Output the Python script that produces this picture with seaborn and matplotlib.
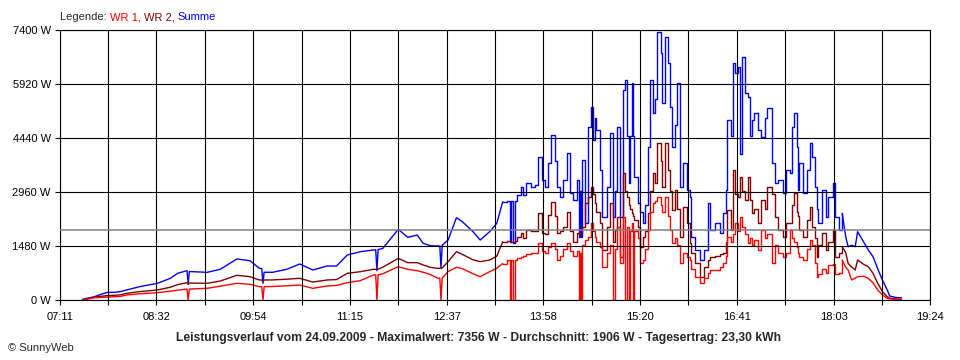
import pandas as pd
import seaborn as sns
import matplotlib.pyplot as plt

zeit = ["07:30", "07:40", "07:45", "07:51", "07:57", "08:02", "08:07", "08:18", "08:33", "08:44",
        "08:50", "08:58", "08:59", "09:00", "09:15", "09:26", "09:40", "09:51", "09:59", "10:01",
        "10:02", "10:03", "10:10", "10:22", "10:33", "10:44", "10:56", "11:04", "11:13", "11:24",
        "11:35", "11:37", "11:38", "11:39", "11:43", "11:56", "12:04", "12:12", "12:17", "12:23",
        "12:29", "12:31", "12:32", "12:33", "12:38", "12:45", "12:50", "12:59", "13:05", "13:13",
        "13:19", "13:24", "13:28", "13:30", "13:31", "13:33", "13:34", "13:36", "13:39", "13:41",
        "13:44", "13:48", "13:51", "13:54", "13:57", "14:00", "14:02", "14:05", "14:08", "14:10",
        "14:12", "14:15", "14:18", "14:21", "14:23", "14:27", "14:28", "14:29", "14:30", "14:31",
        "14:33", "14:36", "14:38", "14:40", "14:42", "14:43", "14:46", "14:48", "14:52", "14:54",
        "14:57", "14:59", "15:00", "15:03", "15:05", "15:07", "15:09", "15:10", "15:11", "15:13",
        "15:14", "15:15", "15:18", "15:20", "15:22", "15:24", "15:26", "15:28", "15:31", "15:32",
        "15:34", "15:37", "15:38", "15:41", "15:43", "15:45", "15:47", "15:49", "15:51", "15:53",
        "15:56", "15:59", "16:02", "16:03", "16:06", "16:10", "16:14", "16:17", "16:19", "16:23",
        "16:27", "16:30", "16:32", "16:33", "16:36", "16:38", "16:40", "16:42", "16:44", "16:46",
        "16:48", "16:51", "16:52", "16:54", "16:56", "16:59", "17:02", "17:05", "17:07", "17:11",
        "17:13", "17:16", "17:20", "17:23", "17:26", "17:28", "17:29", "17:32", "17:33", "17:34",
        "17:37", "17:40", "17:43", "17:45", "17:47", "17:49", "17:50", "17:53", "17:56", "17:58",
        "18:02", "18:04", "18:07", "18:10", "18:13", "18:15", "18:18", "18:21", "18:23", "18:28",
        "18:32", "18:36", "18:40", "18:44", "18:48", "18:50", "18:55", "19:00"]

summe = [20, 90, 150, 210, 210, 230, 274, 365, 457, 594,
         731, 803, 457, 780, 759, 841, 1124, 1078, 868, 860,
         457, 760, 759, 841, 987, 822, 932, 932, 1233, 1324,
         1370, 1375, 803, 1380, 1416, 1937, 1718, 1781, 1553, 1489,
         1480, 1480, 877, 1500, 1644, 2256, 2146, 1872, 1644, 1872,
         2101, 2694, 2700, 1600, 2700, 1560, 2700, 2878, 3106, 2878,
         3198, 3100, 3150, 3928, 3289, 3100, 3755, 4523, 3800, 3106,
         2831, 3300, 4029, 2933, 2741, 3289, 1735, 3000, 1735, 3837,
         2110, 4750, 5298, 4386, 5000, 4660, 3563, 2283, 3106, 4569,
         2283, 3000, 4750, 2283, 5756, 6030, 4500, 3207, 4500, 5940,
         4500, 3380, 2650, 2400, 2101, 2600, 4203, 6030, 5115, 5500,
         7356, 6760, 5390, 7218, 6490, 5298, 4203, 4800, 5940, 3106,
         3755, 3015, 2831, 1735, 1370, 1096, 1370, 2649, 1918, 2101,
         1827, 2375, 3015, 4933, 4500, 6486, 6212, 6394, 4000, 6668,
         5664, 5573, 4500, 4933, 5116, 4660, 4477, 5000, 5253, 3747,
         3198, 3300, 2923, 3563, 3472, 4750, 5116, 4203, 3015, 3747,
         2923, 3563, 4295, 3928, 3106, 2500, 2101, 3015, 2283, 2831,
         3198, 2283, 1918, 2375, 1735, 1461, 1500, 1461, 1872, 1598,
         1370, 1187, 850, 540, 274, 110, 70, 60]

wr2 = [0, 80, 100, 120, 130, 140, 183, 230, 274, 350,
       420, 475, 430, 465, 457, 520, 676, 640, 548, 548,
       500, 548, 550, 570, 594, 493, 548, 560, 731, 776,
       841, 841, 841, 845, 900, 1142, 1023, 1023, 960, 896,
       868, 868, 868, 880, 1051, 1324, 1250, 1100, 1051, 1096,
       1200, 1598, 1620, 1620, 1600, 1600, 1620, 1735, 1827, 1690,
       1918, 1900, 1880, 2375, 1850, 1800, 2330, 2694, 2300, 1850,
       1900, 2009, 2420, 1900, 1598, 1850, 1800, 1850, 1850, 2000,
       2649, 2831, 3106, 2900, 2649, 2400, 2101, 1370, 2000, 2649,
       1600, 1918, 2283, 1187, 3470, 3000, 2831, 2600, 2500, 2375,
       2300, 2200, 2000, 1461, 1735, 1900, 2375, 3000, 3472, 3198,
       4295, 3800, 3106, 4295, 3563, 3000, 2467, 3015, 2500, 1735,
       2557, 2101, 1553, 1300, 1005, 639, 900, 1100, 1187, 1200,
       1250, 1300, 1600, 2467, 1918, 3563, 2900, 2831, 3380, 3000,
       2741, 3380, 2741, 2375, 2500, 2101, 2741, 2500, 3106, 2900,
       2283, 1918, 1735, 2101, 2101, 2600, 2923, 2400, 2300, 1918,
       1735, 2193, 2557, 2009, 1700, 1187, 1500, 1827, 1370, 1600,
       1918, 1187, 1300, 1461, 1300, 1005, 900, 822, 1096, 980,
       913, 731, 457, 228, 90, 50, 30, 20]

wr1 = [0, 60, 70, 80, 90, 100, 137, 170, 201, 240,
       270, 301, 0, 300, 320, 380, 457, 430, 365, 365,
       0, 365, 370, 390, 411, 320, 384, 400, 475, 530,
       685, 688, 0, 690, 720, 913, 840, 803, 760, 700,
       600, 600, 0, 600, 780, 896, 860, 720, 639, 776,
       870, 1000, 1096, 0, 1096, 0, 1100, 1150, 1187, 1200,
       1250, 1280, 1297, 1553, 1350, 1300, 1450, 1553, 1400, 1096,
       1200, 1400, 1553, 1350, 1200, 1350, 0, 1300, 0, 1500,
       1650, 1735, 2101, 1900, 1735, 1600, 1461, 913, 1300, 1500,
       0, 1400, 2009, 1005, 2283, 0, 2000, 0, 1900, 2100,
       0, 1900, 1700, 1005, 1100, 1400, 1918, 2400, 2649, 2700,
       2831, 2600, 2400, 2831, 2300, 1918, 1553, 1700, 1500, 1005,
       1300, 1187, 1096, 850, 639, 457, 600, 750, 822, 822,
       900, 1005, 1200, 1735, 1600, 1800, 2101, 1900, 2283, 2000,
       1800, 1553, 1700, 1500, 1650, 1370, 1918, 1700, 1800, 1005,
       1500, 1300, 1187, 1300, 1918, 1700, 1600, 1461, 1300, 1187,
       1096, 1400, 1644, 1500, 1005, 639, 700, 850, 750, 950,
       1000, 700, 731, 1096, 900, 822, 548, 600, 639, 650,
       594, 470, 274, 137, 45, 30, 20, 15]

tick_labels = ["07:11", "08:32", "09:54", "11:15", "12:37", "13:58", "15:20", "16:41", "18:03", "19:24"]
y_ticks = [0, 1480, 2960, 4440, 5920, 7400]
durchschnitt = 1906
titel = ("Leistungsverlauf vom 24.09.2009 - Maximalwert: 7356 W - "
         "Durchschnitt: 1906 W - Tagesertrag: 23,30 kWh")


def to_min(s):
    h, m = s.split(":")
    return int(h) * 60 + int(m)


df = pd.DataFrame({"zeit": [to_min(z) for z in zeit],
                   "WR 1": wr1, "WR 2": wr2, "Summe": summe})
df_long = df.melt(id_vars="zeit", var_name="serie", value_name="leistung")

# ruhiger Verlauf als Linie, unruhiger Nachmittag als Treppe
start_unruhig = to_min("13:24")
ende_unruhig = to_min("18:10")
ruhig_vor = df_long[df_long["zeit"] <= start_unruhig]
unruhig = df_long[(df_long["zeit"] >= start_unruhig) & (df_long["zeit"] <= ende_unruhig)]
ruhig_nach = df_long[df_long["zeit"] >= ende_unruhig]

sns.set_style("white")
plt.rcParams["font.family"] = ["Liberation Sans", "DejaVu Sans"]

farben = {"WR 1": "#ff0000", "WR 2": "#800000", "Summe": "#0000ff"}
reihenfolge = ["Summe", "WR 2", "WR 1"]

fig = plt.figure(figsize=(9.6, 3.6), dpi=100)
ax = fig.add_axes([60 / 960, 60 / 360, 870 / 960, 270 / 360])

for teil, stil in [(ruhig_vor, "default"), (unruhig, "steps-post"), (ruhig_nach, "default")]:
    sns.lineplot(data=teil, x="zeit", y="leistung", hue="serie",
                 hue_order=reihenfolge, palette=farben, estimator=None,
                 drawstyle=stil, linewidth=1, legend=False, ax=ax)

ax.axhline(durchschnitt, color="#808080", linewidth=1.1, zorder=3)

major = [to_min(t) for t in tick_labels]
minor = [(a + b) / 2 for a, b in zip(major[:-1], major[1:])]
ax.set_xlim(major[0], major[-1])
ax.set_ylim(0, 7400)
ax.set_xticks(major)
ax.set_xticklabels(tick_labels)
ax.set_xticks(minor, minor=True)
ax.set_yticks(y_ticks)
ax.set_yticklabels([f"{v} W" for v in y_ticks])
ax.set_xlabel("")
ax.set_ylabel("")

ax.set_axisbelow(False)
ax.grid(True, which="both", axis="x", color="black", linewidth=0.8)
ax.grid(True, which="major", axis="y", color="black", linewidth=0.8)
for sp in ax.spines.values():
    sp.set_color("black")
    sp.set_linewidth(0.8)
ax.tick_params(axis="both", which="both", direction="out", length=3.6, width=0.8,
               color="black", labelsize=8, labelcolor="black")
ax.tick_params(axis="x", which="both", bottom=True, pad=5)
ax.tick_params(axis="y", which="both", left=True, pad=3)

# Legende als farbiger Text
t = fig.text(60 / 960, 1 - 22 / 360, "Legende: ", fontsize=8, ha="left", va="bottom")
for txt, col in [("WR 1, ", farben["WR 1"]), ("WR 2, ", farben["WR 2"]), ("Summe", farben["Summe"])]:
    t = ax.annotate(txt, xycoords=t, xy=(1, 0), va="bottom", ha="left", color=col, fontsize=8,
                    annotation_clip=False)

fig.text(479 / 960, 1 - 338 / 360, titel, fontsize=8.7, fontweight="bold", ha="center", va="center")
fig.text(8 / 960, 1 - 348 / 360, "© SunnyWeb", fontsize=8, ha="left", va="center")

fig.savefig("out.png", dpi=100)
